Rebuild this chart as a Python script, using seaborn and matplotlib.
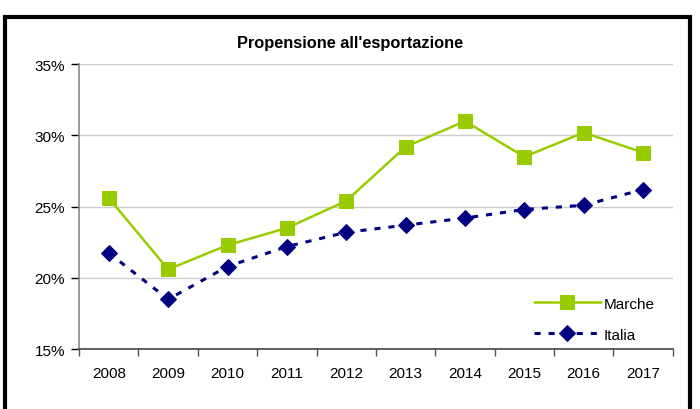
import matplotlib
matplotlib.use("Agg")
import matplotlib.pyplot as plt
import seaborn as sns
import pandas as pd
from matplotlib.patches import Rectangle
from matplotlib.ticker import FuncFormatter, FixedLocator

years = ["2008", "2009", "2010", "2011", "2012", "2013", "2014", "2015", "2016", "2017"]
marche = [25.6, 20.6, 22.3, 23.5, 25.4, 29.2, 31.0, 28.5, 30.2, 28.8]
italia = [21.75, 18.5, 20.8, 22.2, 23.2, 23.7, 24.2, 24.8, 25.1, 26.2]
yticks = [15, 20, 25, 30, 35]

sns.set_theme(style="white")
plt.rcParams["font.family"] = ["Liberation Sans", "DejaVu Sans"]
plt.rcParams["text.color"] = "black"

df = pd.DataFrame({"x": list(range(len(years))), "Marche": marche, "Italia": italia})

fig = plt.figure(figsize=(7, 4.1), dpi=100)
ax = fig.add_axes([0.113, 0.146, 0.848, 0.695])

sns.lineplot(data=df, x="x", y="Marche", ax=ax, color="#99CC00", linewidth=1.8,
             marker="s", markersize=9.5, markeredgecolor="#99CC00", label="Marche")
sns.lineplot(data=df, x="x", y="Italia", ax=ax, color="#000080", linewidth=2.2,
             linestyle=(0, (2, 2.6)), marker="D", markersize=8.5,
             markeredgecolor="#000080", label="Italia")

ax.set_xlim(-0.5, len(years) - 0.5)
ax.set_ylim(15, 35)
ax.set_yticks(yticks)
ax.yaxis.set_major_formatter(FuncFormatter(lambda v, p: f"{v:.0f}%"))
ax.set_xticks(range(len(years)))
ax.set_xticklabels(years)
ax.xaxis.set_minor_locator(FixedLocator([i - 0.5 for i in range(len(years) + 1)]))
ax.tick_params(axis="x", which="major", length=0, pad=12, labelsize=11, colors="black")
ax.tick_params(axis="x", which="minor", length=5, width=1, color="#555555", direction="out", bottom=True)
ax.tick_params(axis="y", length=6, width=1, direction="out", left=True, labelsize=11, pad=4, colors="black")
for t in ax.yaxis.get_major_ticks():
    t.tick1line.set_color("#777777")
ax.set_xlabel("")
ax.set_ylabel("")
ax.grid(axis="y", color="#CCCCCC", linewidth=1)
ax.set_axisbelow(True)
for s in ["top", "right"]:
    ax.spines[s].set_visible(False)
ax.spines["left"].set_color("#888888")
ax.spines["left"].set_linewidth(1.2)
ax.spines["bottom"].set_color("#444444")
ax.spines["bottom"].set_linewidth(1.2)

leg = ax.legend(loc="lower right", bbox_to_anchor=(0.982, 0.0), frameon=False, fontsize=11,
                handlelength=4.4, labelspacing=1.1, handletextpad=0.15, borderaxespad=0.1)
for t in leg.get_texts():
    t.set_color("black")

fig.text(0.5, 0.893, "Propensione all'esportazione", ha="center", va="center",
         fontsize=11.8, fontweight="bold", color="black")

fig.patches.append(Rectangle((0.007, -0.01), 0.979, 0.965, transform=fig.transFigure,
                             fill=False, edgecolor="black", linewidth=3))

fig.savefig("out.png", dpi=100)
